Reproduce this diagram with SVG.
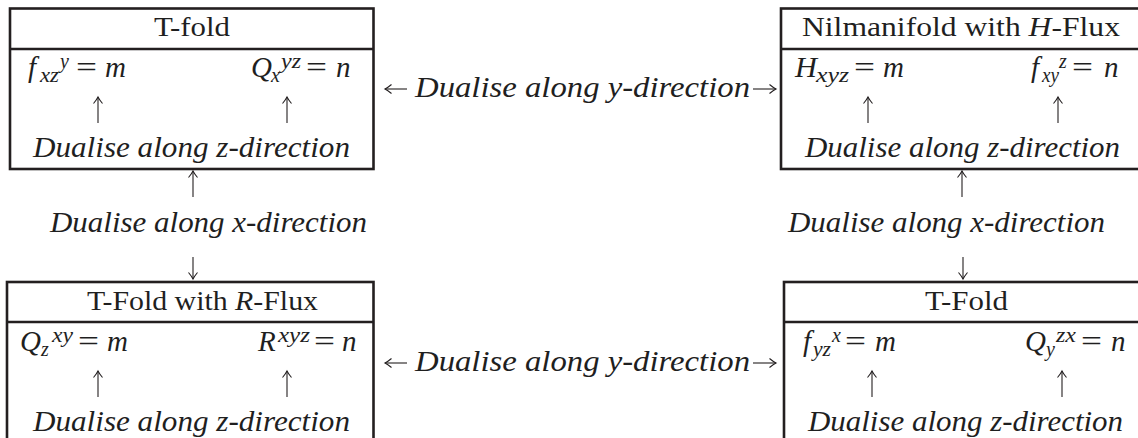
<svg xmlns="http://www.w3.org/2000/svg" width="1138" height="438" viewBox="0 0 1138 438">
<defs>
<style>
.bg{fill:#fff}
.box{fill:none;stroke:#231f20;stroke-width:2.6}
.t{font-family:"Liberation Serif","Times New Roman",Times,serif;font-size:28px;fill:#1f1f1f}
.d{font-size:29.5px;font-style:italic}
.i{font-style:italic}
.e{font-size:29px}
.s{font-size:20px;font-style:italic}
.c{fill:none;stroke:#231f20;stroke-width:1.1;marker-end:url(#ah)}
</style>
<marker id="ah" viewBox="-8 -6 10 12" refX="0" refY="0" markerWidth="10" markerHeight="12" markerUnits="userSpaceOnUse" orient="auto" overflow="visible">
<path d="M-6.5,-4.5 Q-2.5,-1.2 0,0 Q-2.5,1.2 -6.5,4.5" fill="none" stroke="#231f20" stroke-width="1.1"/>
</marker>
</defs>
<rect class="bg" x="0" y="0" width="1138" height="438"/>

<g id="node-tfold">
<rect class="box" x="10" y="8.5" width="363.5" height="160.5"/>
<line class="box" x1="10" y1="49" x2="373.5" y2="49"/>
<text class="t" x="154" y="36" textLength="76" lengthAdjust="spacingAndGlyphs">T-fold</text>
<text class="t e"><tspan class="i" x="28" y="77">f</tspan><tspan class="s" x="40" y="82" textLength="19" lengthAdjust="spacingAndGlyphs">xz</tspan><tspan class="s" x="60" y="68">y</tspan><tspan x="76" y="77" textLength="21" lengthAdjust="spacingAndGlyphs">=</tspan><tspan class="i" x="105" y="77">m</tspan></text>
<text class="t e"><tspan class="i" x="251" y="77">Q</tspan><tspan class="s" x="271" y="82">x</tspan><tspan class="s" x="281" y="68" textLength="20" lengthAdjust="spacingAndGlyphs">yz</tspan><tspan x="306" y="77" textLength="21" lengthAdjust="spacingAndGlyphs">=</tspan><tspan class="i" x="336" y="77">n</tspan></text>
<text class="t d" x="33" y="157" textLength="317" lengthAdjust="spacingAndGlyphs">Dualise along z-direction</text>
</g>

<g id="node-nilmanifold">
<rect class="box" x="781" y="8.5" width="360" height="160.5"/>
<line class="box" x1="781" y1="49" x2="1141" y2="49"/>
<text class="t" x="802" y="36" textLength="318" lengthAdjust="spacingAndGlyphs">Nilmanifold with <tspan class="i">H</tspan>-Flux</text>
<text class="t e"><tspan class="i" x="795" y="77" textLength="22" lengthAdjust="spacingAndGlyphs">H</tspan><tspan class="s" x="816" y="82" textLength="33" lengthAdjust="spacingAndGlyphs">xyz</tspan><tspan x="854" y="77" textLength="21" lengthAdjust="spacingAndGlyphs">=</tspan><tspan class="i" x="883" y="77">m</tspan></text>
<text class="t e"><tspan class="i" x="1031" y="77">f</tspan><tspan class="s" x="1042" y="82" textLength="17" lengthAdjust="spacingAndGlyphs">xy</tspan><tspan class="s" x="1059" y="68">z</tspan><tspan x="1072" y="77" textLength="21" lengthAdjust="spacingAndGlyphs">=</tspan><tspan class="i" x="1104" y="77">n</tspan></text>
<text class="t d" x="805" y="157" textLength="315" lengthAdjust="spacingAndGlyphs">Dualise along z-direction</text>
</g>

<g id="node-tfold-rflux">
<rect class="box" x="7" y="282" width="366.5" height="170"/>
<line class="box" x1="7" y1="322" x2="373.5" y2="322"/>
<text class="t" x="87" y="310" textLength="231" lengthAdjust="spacingAndGlyphs">T-Fold with <tspan class="i">R</tspan>-Flux</text>
<text class="t e"><tspan class="i" x="20" y="351">Q</tspan><tspan class="s" x="41" y="356">z</tspan><tspan class="s" x="52" y="342" textLength="21" lengthAdjust="spacingAndGlyphs">xy</tspan><tspan x="78" y="351" textLength="21" lengthAdjust="spacingAndGlyphs">=</tspan><tspan class="i" x="107" y="351">m</tspan></text>
<text class="t e"><tspan class="i" x="258" y="351">R</tspan><tspan class="s" x="278" y="342" textLength="32" lengthAdjust="spacingAndGlyphs">xyz</tspan><tspan x="314" y="351" textLength="21" lengthAdjust="spacingAndGlyphs">=</tspan><tspan class="i" x="342" y="351">n</tspan></text>
<text class="t d" x="33" y="431" textLength="317" lengthAdjust="spacingAndGlyphs">Dualise along z-direction</text>
</g>

<g id="node-tfold2">
<rect class="box" x="784" y="282" width="360" height="170"/>
<line class="box" x1="784" y1="322" x2="1144" y2="322"/>
<text class="t" x="925" y="310" textLength="83" lengthAdjust="spacingAndGlyphs">T-Fold</text>
<text class="t e"><tspan class="i" x="803" y="351">f</tspan><tspan class="s" x="813" y="356" textLength="18" lengthAdjust="spacingAndGlyphs">yz</tspan><tspan class="s" x="832" y="342">x</tspan><tspan x="845" y="351" textLength="21" lengthAdjust="spacingAndGlyphs">=</tspan><tspan class="i" x="875" y="351">m</tspan></text>
<text class="t e"><tspan class="i" x="1025" y="351">Q</tspan><tspan class="s" x="1046" y="356">y</tspan><tspan class="s" x="1056" y="342" textLength="20" lengthAdjust="spacingAndGlyphs">zx</tspan><tspan x="1081" y="351" textLength="21" lengthAdjust="spacingAndGlyphs">=</tspan><tspan class="i" x="1111" y="351">n</tspan></text>
<text class="t d" x="808" y="431" textLength="315" lengthAdjust="spacingAndGlyphs">Dualise along z-direction</text>
</g>

<g id="labels">
<text class="t d" x="415" y="97" textLength="335" lengthAdjust="spacingAndGlyphs">Dualise along y-direction</text>
<text class="t d" x="415" y="371" textLength="335" lengthAdjust="spacingAndGlyphs">Dualise along y-direction</text>
<text class="t d" x="50" y="232" textLength="317" lengthAdjust="spacingAndGlyphs">Dualise along x-direction</text>
<text class="t d" x="788" y="232" textLength="317" lengthAdjust="spacingAndGlyphs">Dualise along x-direction</text>
</g>

<g id="connectors">
<line class="c" x1="407" y1="89" x2="385" y2="89"/>
<line class="c" x1="753" y1="89" x2="776" y2="89"/>
<line class="c" x1="407" y1="363" x2="385" y2="363"/>
<line class="c" x1="753" y1="363" x2="776" y2="363"/>
<line class="c" x1="193" y1="197" x2="193" y2="171"/>
<line class="c" x1="193" y1="257" x2="193" y2="279"/>
<line class="c" x1="962" y1="197" x2="962" y2="171"/>
<line class="c" x1="963" y1="257" x2="963" y2="279"/>
<line class="c" x1="98" y1="123" x2="98" y2="97"/>
<line class="c" x1="287" y1="123" x2="287" y2="97"/>
<line class="c" x1="868" y1="123" x2="868" y2="97"/>
<line class="c" x1="1058" y1="123" x2="1058" y2="97"/>
<line class="c" x1="98" y1="397" x2="98" y2="371"/>
<line class="c" x1="287" y1="397" x2="287" y2="371"/>
<line class="c" x1="872" y1="397" x2="872" y2="371"/>
<line class="c" x1="1062" y1="397" x2="1062" y2="371"/>
</g>
</svg>
